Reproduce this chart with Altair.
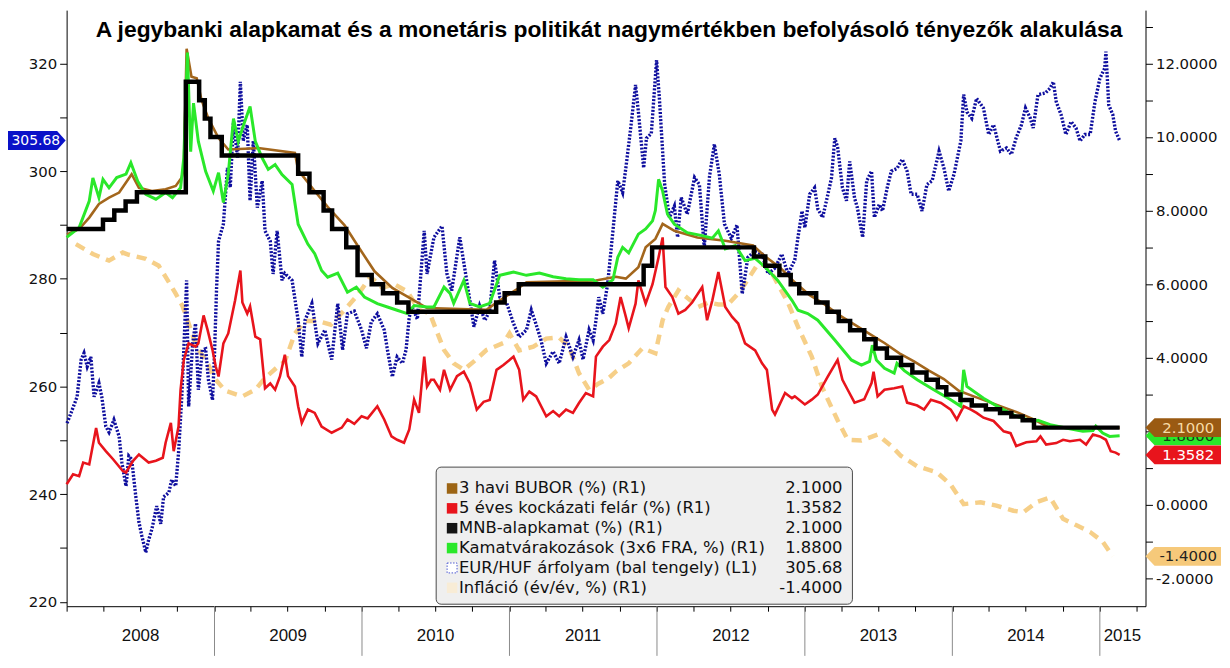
import altair as alt
import pandas as pd

TITLE = "A jegybanki alapkamat és a monetáris politikát nagymértékben befolyásoló tényezők alakulása"

# (decimal year, EUR/HUF)
eurhuf = [
    (2008.003, 253.2), (2008.030, 255.1), (2008.071, 258.1), (2008.098, 265.0), (2008.118, 266.2),
    (2008.138, 263.7), (2008.165, 265.5), (2008.185, 258.1), (2008.219, 260.6), (2008.239, 258.1),
    (2008.266, 252.6), (2008.286, 251.5), (2008.320, 253.8), (2008.354, 250.7), (2008.374, 245.8),
    (2008.401, 241.5), (2008.421, 247.1), (2008.441, 246.5), (2008.468, 239.7), (2008.488, 234.8),
    (2008.508, 232.3), (2008.535, 229.2), (2008.556, 231.5), (2008.576, 233.5), (2008.609, 237.8),
    (2008.636, 234.5), (2008.657, 239.5), (2008.690, 240.3), (2008.710, 242.7), (2008.737, 241.5),
    (2008.758, 247.7), (2008.778, 258.1), (2008.791, 266.8), (2008.811, 279.7), (2008.825, 256.3),
    (2008.852, 268.0), (2008.872, 271.7), (2008.892, 259.4), (2008.919, 266.8), (2008.939, 267.0),
    (2008.960, 261.2), (2008.987, 257.5), (2009.000, 266.0), (2009.013, 278.0), (2009.027, 287.0),
    (2009.061, 290.2), (2009.088, 300.6), (2009.108, 297.0), (2009.128, 309.2), (2009.155, 302.5),
    (2009.175, 316.6), (2009.195, 305.6), (2009.222, 308.6), (2009.242, 294.5), (2009.263, 305.6),
    (2009.290, 293.2), (2009.323, 298.2), (2009.343, 288.9), (2009.377, 287.0), (2009.397, 280.9),
    (2009.424, 288.9), (2009.458, 279.7), (2009.478, 281.0), (2009.525, 279.7), (2009.566, 272.3),
    (2009.593, 265.5), (2009.613, 272.3), (2009.660, 275.4), (2009.700, 268.0), (2009.747, 270.5),
    (2009.795, 265.0), (2009.835, 275.4), (2009.869, 266.8), (2009.902, 273.5), (2009.949, 274.0),
    (2009.997, 270.5), (2010.030, 267.1), (2010.064, 272.0), (2010.104, 273.5), (2010.152, 270.5),
    (2010.172, 266.8), (2010.205, 261.8), (2010.239, 265.5), (2010.273, 264.3), (2010.300, 266.8),
    (2010.320, 272.9), (2010.340, 274.8), (2010.374, 272.5), (2010.421, 288.9), (2010.441, 280.9),
    (2010.488, 287.7), (2010.542, 289.8), (2010.576, 281.0), (2010.609, 277.8), (2010.663, 287.7),
    (2010.710, 279.7), (2010.758, 271.1), (2010.798, 275.0), (2010.832, 272.3), (2010.865, 274.0),
    (2010.899, 283.4), (2010.933, 276.6), (2010.980, 275.5), (2011.027, 271.7), (2011.067, 269.2),
    (2011.114, 270.5), (2011.148, 274.2), (2011.182, 271.5), (2011.215, 268.6), (2011.249, 264.3),
    (2011.296, 266.5), (2011.337, 264.3), (2011.384, 269.2), (2011.431, 265.5), (2011.471, 268.6),
    (2011.498, 265.0), (2011.539, 270.5), (2011.566, 268.6), (2011.586, 272.3), (2011.606, 276.6),
    (2011.633, 273.5), (2011.667, 279.1), (2011.700, 288.9), (2011.734, 298.2), (2011.768, 296.0),
    (2011.788, 300.6), (2011.822, 308.0), (2011.855, 316.0), (2011.875, 311.0), (2011.909, 300.6),
    (2011.929, 306.1), (2011.963, 307.0), (2011.997, 320.6), (2012.017, 313.5), (2012.051, 297.5),
    (2012.084, 291.4), (2012.118, 293.5), (2012.138, 287.7), (2012.165, 295.1), (2012.205, 292.0),
    (2012.253, 298.8), (2012.286, 297.5), (2012.320, 285.8), (2012.354, 299.0), (2012.387, 305.0),
    (2012.421, 299.5), (2012.455, 290.2), (2012.502, 287.5), (2012.542, 290.0), (2012.576, 277.2),
    (2012.616, 284.0), (2012.663, 285.2), (2012.710, 284.6), (2012.751, 280.9), (2012.798, 282.0),
    (2012.845, 284.6), (2012.886, 280.9), (2012.933, 283.5), (2012.953, 287.7), (2012.980, 292.6),
    (2013.000, 289.5), (2013.034, 295.7), (2013.067, 296.9), (2013.088, 293.0), (2013.121, 291.4),
    (2013.155, 295.7), (2013.182, 298.8), (2013.202, 306.1), (2013.222, 304.5), (2013.256, 296.9),
    (2013.283, 294.5), (2013.303, 301.8), (2013.337, 295.0), (2013.357, 293.2), (2013.391, 287.7),
    (2013.418, 298.2), (2013.451, 300.0), (2013.471, 291.4), (2013.505, 293.8), (2013.525, 292.6),
    (2013.559, 297.0), (2013.586, 300.0), (2013.626, 300.5), (2013.660, 302.2), (2013.694, 300.0),
    (2013.721, 295.7), (2013.761, 295.7), (2013.795, 292.6), (2013.828, 297.5), (2013.862, 298.2),
    (2013.909, 303.7), (2013.943, 300.6), (2013.976, 296.3), (2014.010, 299.4), (2014.057, 305.6),
    (2014.077, 314.2), (2014.098, 311.0), (2014.131, 309.8), (2014.165, 313.5), (2014.212, 311.7),
    (2014.246, 306.8), (2014.279, 308.6), (2014.327, 303.7), (2014.367, 304.3), (2014.401, 303.1),
    (2014.434, 306.2), (2014.468, 308.6), (2014.495, 311.7), (2014.529, 309.8), (2014.549, 308.0),
    (2014.582, 314.2), (2014.630, 314.5), (2014.663, 315.4), (2014.684, 316.6), (2014.704, 312.9),
    (2014.737, 310.5), (2014.771, 306.8), (2014.805, 309.2), (2014.838, 308.0), (2014.865, 305.6),
    (2014.899, 306.8), (2014.933, 306.8), (2014.966, 312.9), (2015.000, 317.2), (2015.034, 319.1),
    (2015.040, 322.2), (2015.061, 312.3), (2015.088, 310.5), (2015.108, 307.4), (2015.135, 305.68),
]

# (decimal year, 3-month BUBOR %)
bubor = [
    (2008.003, 7.35), (2008.084, 7.50), (2008.152, 7.81), (2008.219, 8.18), (2008.286, 8.35),
    (2008.354, 8.49), (2008.441, 8.99), (2008.488, 8.62), (2008.576, 8.53), (2008.670, 8.58),
    (2008.737, 8.67), (2008.778, 8.90), (2008.791, 9.16), (2008.811, 12.40), (2008.845, 11.64),
    (2008.879, 11.60), (2008.912, 11.00), (2008.960, 10.50), (2009.027, 9.97), (2009.094, 9.66),
    (2009.296, 9.70), (2009.545, 9.57), (2009.566, 9.10), (2009.667, 8.60), (2009.768, 8.10),
    (2009.882, 7.60), (2009.970, 7.05), (2010.084, 6.35), (2010.205, 5.90), (2010.333, 5.60),
    (2010.441, 5.35), (2010.845, 5.30), (2010.912, 5.50), (2011.047, 5.85), (2011.114, 6.05),
    (2011.586, 6.10), (2011.721, 6.20), (2011.788, 6.15), (2011.875, 6.46), (2011.922, 7.00),
    (2011.990, 7.23), (2012.037, 7.64), (2012.118, 7.45), (2012.273, 7.27), (2012.461, 7.18),
    (2012.650, 7.05), (2012.731, 6.75), (2012.832, 6.45), (2012.933, 6.05), (2013.034, 5.70),
    (2013.135, 5.45), (2013.236, 5.15), (2013.337, 4.90), (2013.438, 4.65), (2013.539, 4.40),
    (2013.640, 4.12), (2013.741, 3.90), (2013.842, 3.65), (2013.943, 3.42), (2014.044, 3.10),
    (2014.145, 2.95), (2014.246, 2.80), (2014.347, 2.65), (2014.448, 2.50), (2014.549, 2.33),
    (2014.650, 2.12), (2014.751, 2.10), (2015.135, 2.10),
]

# (decimal year, 5-year CDS spread %)
cds = [
    (2008.000, 0.56), (2008.044, 0.83), (2008.084, 0.78), (2008.111, 1.15), (2008.152, 1.10),
    (2008.199, 2.09), (2008.219, 1.69), (2008.266, 1.46), (2008.313, 1.24), (2008.380, 0.92),
    (2008.401, 0.88), (2008.448, 1.19), (2008.488, 1.37), (2008.556, 1.15), (2008.603, 1.20),
    (2008.650, 1.28), (2008.670, 1.69), (2008.704, 2.23), (2008.724, 1.46), (2008.758, 2.13),
    (2008.771, 3.13), (2008.791, 3.94), (2008.825, 4.39), (2008.872, 4.30), (2008.892, 4.39),
    (2008.926, 5.15), (2008.953, 4.75), (2008.987, 4.21), (2009.007, 3.76), (2009.027, 3.49),
    (2009.061, 4.39), (2009.094, 4.66), (2009.141, 5.56), (2009.175, 6.37), (2009.189, 5.50),
    (2009.222, 5.20), (2009.242, 5.40), (2009.276, 4.57), (2009.310, 4.50), (2009.343, 3.17),
    (2009.377, 3.30), (2009.411, 3.13), (2009.444, 3.49), (2009.478, 4.08), (2009.498, 3.50),
    (2009.545, 3.22), (2009.566, 2.68), (2009.593, 2.23), (2009.633, 2.59), (2009.680, 2.50),
    (2009.727, 2.13), (2009.795, 1.96), (2009.862, 2.10), (2009.902, 2.32), (2009.949, 2.20),
    (2009.997, 2.41), (2010.037, 2.35), (2010.104, 2.68), (2010.152, 2.32), (2010.199, 1.86),
    (2010.239, 1.77), (2010.286, 1.69), (2010.320, 2.05), (2010.354, 2.86), (2010.387, 2.50),
    (2010.421, 4.03), (2010.441, 3.22), (2010.468, 3.40), (2010.488, 3.40), (2010.529, 3.13),
    (2010.556, 3.67), (2010.596, 3.13), (2010.643, 3.50), (2010.690, 3.62), (2010.731, 3.30),
    (2010.778, 2.59), (2010.825, 2.80), (2010.865, 2.85), (2010.912, 3.67), (2010.960, 3.80),
    (2011.027, 4.03), (2011.067, 3.67), (2011.094, 2.86), (2011.135, 3.08), (2011.182, 2.95),
    (2011.249, 2.41), (2011.296, 2.55), (2011.337, 2.41), (2011.384, 2.59), (2011.431, 2.50),
    (2011.471, 2.77), (2011.519, 3.04), (2011.566, 2.95), (2011.586, 4.03), (2011.633, 4.30),
    (2011.677, 4.48), (2011.721, 4.93), (2011.754, 5.65), (2011.788, 5.11), (2011.808, 4.80),
    (2011.855, 5.47), (2011.875, 6.10), (2011.922, 5.47), (2011.970, 6.00), (2012.010, 6.73),
    (2012.037, 7.27), (2012.057, 5.92), (2012.104, 5.65), (2012.145, 5.20), (2012.192, 5.30),
    (2012.239, 5.50), (2012.306, 5.92), (2012.340, 5.02), (2012.374, 5.56), (2012.414, 6.33),
    (2012.461, 5.38), (2012.508, 5.11), (2012.549, 4.93), (2012.596, 4.39), (2012.663, 4.20),
    (2012.710, 3.85), (2012.744, 3.67), (2012.778, 2.59), (2012.798, 2.46), (2012.865, 3.04),
    (2012.912, 2.90), (2012.933, 2.95), (2013.000, 2.73), (2013.047, 2.86), (2013.088, 3.00),
    (2013.155, 3.49), (2013.222, 3.94), (2013.256, 3.40), (2013.290, 3.13), (2013.337, 2.78),
    (2013.404, 2.87), (2013.451, 3.31), (2013.465, 3.62), (2013.492, 2.95), (2013.539, 3.13),
    (2013.606, 3.17), (2013.660, 3.22), (2013.694, 2.78), (2013.761, 2.70), (2013.808, 2.59),
    (2013.855, 2.86), (2013.923, 2.77), (2013.990, 2.59), (2014.030, 2.32), (2014.077, 2.68),
    (2014.125, 2.59), (2014.165, 2.50), (2014.212, 2.37), (2014.279, 2.28), (2014.347, 2.00),
    (2014.394, 1.95), (2014.434, 1.60), (2014.502, 1.70), (2014.569, 1.73), (2014.596, 1.86),
    (2014.636, 1.64), (2014.704, 1.68), (2014.751, 1.77), (2014.798, 1.73), (2014.865, 1.77),
    (2014.906, 1.64), (2014.953, 1.91), (2015.000, 1.86), (2015.040, 1.77), (2015.074, 1.46),
    (2015.108, 1.42), (2015.135, 1.3582),
]

# (decimal year, 3x6 FRA %)
fra = [
    (2008.000, 7.27), (2008.084, 7.54), (2008.152, 8.26), (2008.178, 8.89), (2008.219, 8.35),
    (2008.246, 8.85), (2008.286, 8.62), (2008.340, 8.90), (2008.401, 8.99), (2008.434, 9.30),
    (2008.481, 8.80), (2008.535, 8.44), (2008.603, 8.31), (2008.670, 8.49), (2008.717, 8.35),
    (2008.771, 8.62), (2008.791, 9.43), (2008.818, 12.30), (2008.838, 9.60), (2008.859, 10.92),
    (2008.892, 9.88), (2008.939, 9.07), (2008.993, 8.53), (2009.027, 9.03), (2009.061, 8.22),
    (2009.094, 9.00), (2009.128, 10.50), (2009.162, 9.88), (2009.195, 10.30), (2009.242, 10.83),
    (2009.276, 9.88), (2009.323, 9.43), (2009.364, 9.12), (2009.411, 9.25), (2009.458, 8.98),
    (2009.525, 8.71), (2009.566, 7.63), (2009.633, 7.09), (2009.680, 6.83), (2009.727, 6.37),
    (2009.768, 6.19), (2009.835, 6.30), (2009.902, 5.78), (2009.963, 5.92), (2010.017, 5.65),
    (2010.104, 5.47), (2010.172, 5.38), (2010.239, 5.29), (2010.306, 5.20), (2010.354, 5.42),
    (2010.441, 5.38), (2010.488, 5.38), (2010.556, 5.92), (2010.596, 5.75), (2010.623, 5.48),
    (2010.690, 6.10), (2010.731, 5.48), (2010.798, 5.38), (2010.865, 5.48), (2010.933, 6.24),
    (2011.027, 6.33), (2011.114, 6.24), (2011.202, 6.30), (2011.296, 6.20), (2011.384, 6.15),
    (2011.471, 6.12), (2011.566, 6.12), (2011.633, 5.92), (2011.700, 6.12), (2011.734, 6.73),
    (2011.768, 7.00), (2011.808, 6.85), (2011.875, 7.36), (2011.922, 7.50), (2011.970, 7.72),
    (2011.990, 8.00), (2012.010, 8.85), (2012.037, 8.53), (2012.071, 7.90), (2012.118, 7.63),
    (2012.205, 7.40), (2012.306, 7.32), (2012.374, 7.25), (2012.414, 7.45), (2012.461, 6.96),
    (2012.529, 7.05), (2012.596, 6.64), (2012.663, 6.70), (2012.731, 6.46), (2012.818, 6.10),
    (2012.912, 5.56), (2012.953, 5.29), (2013.020, 5.20), (2013.088, 5.02), (2013.202, 4.48),
    (2013.316, 3.94), (2013.384, 3.80), (2013.438, 3.90), (2013.458, 4.34), (2013.485, 3.94),
    (2013.539, 3.71), (2013.606, 3.58), (2013.626, 3.85), (2013.673, 3.65), (2013.761, 3.40),
    (2013.875, 3.13), (2013.990, 2.86), (2014.057, 2.68), (2014.077, 3.67), (2014.098, 3.22),
    (2014.212, 2.90), (2014.327, 2.63), (2014.434, 2.41), (2014.549, 2.27), (2014.582, 2.30),
    (2014.663, 2.18), (2014.771, 2.09), (2014.886, 2.00), (2014.953, 2.02), (2014.973, 2.14),
    (2015.020, 1.95), (2015.067, 1.86), (2015.135, 1.88),
]

# (decimal year, CPI y/y %)
inflation = [
    (2008.064, 7.09), (2008.178, 6.82), (2008.286, 6.64), (2008.380, 6.86), (2008.421, 6.80),
    (2008.535, 6.69), (2008.623, 6.50), (2008.670, 6.20), (2008.737, 5.74), (2008.785, 5.40),
    (2008.879, 4.30), (2008.960, 3.80), (2009.007, 3.40), (2009.074, 3.10), (2009.189, 2.95),
    (2009.276, 3.13), (2009.343, 3.45), (2009.431, 3.76), (2009.478, 3.90), (2009.545, 4.66),
    (2009.613, 5.00), (2009.700, 5.00), (2009.788, 4.90), (2009.882, 5.30), (2009.970, 5.70),
    (2010.057, 6.20), (2010.138, 5.90), (2010.219, 6.00), (2010.306, 5.80), (2010.387, 5.30),
    (2010.461, 5.20), (2010.556, 4.21), (2010.623, 3.85), (2010.690, 3.67), (2010.758, 3.90),
    (2010.845, 4.21), (2010.960, 4.40), (2011.000, 4.66), (2011.067, 4.20), (2011.162, 4.30),
    (2011.249, 4.52), (2011.337, 4.55), (2011.404, 4.30), (2011.471, 3.58), (2011.539, 3.13),
    (2011.606, 3.30), (2011.673, 3.45), (2011.721, 3.62), (2011.808, 3.85), (2011.902, 4.26),
    (2011.990, 4.12), (2012.037, 5.02), (2012.077, 5.38), (2012.145, 5.83), (2012.212, 5.60),
    (2012.279, 5.38), (2012.347, 5.50), (2012.414, 5.45), (2012.481, 5.45), (2012.549, 5.75),
    (2012.596, 6.01), (2012.643, 6.30), (2012.684, 6.55), (2012.751, 6.50), (2012.818, 6.00),
    (2012.886, 5.50), (2012.953, 4.84), (2013.047, 4.03), (2013.114, 3.22), (2013.155, 2.86),
    (2013.222, 2.30), (2013.290, 1.77), (2013.384, 1.75), (2013.492, 1.91), (2013.586, 1.60),
    (2013.653, 1.33), (2013.761, 1.05), (2013.896, 0.88), (2013.990, 0.55), (2014.077, 0.02),
    (2014.192, 0.07), (2014.300, -0.02), (2014.414, -0.16), (2014.481, -0.20), (2014.569, 0.07),
    (2014.663, 0.20), (2014.751, -0.38), (2014.838, -0.55), (2014.933, -0.74), (2015.020, -1.00),
    (2015.088, -1.40),
]

# MNB base rate decisions
mnb_dates = [
    "2008-01-01", "2008-03-31", "2008-04-28", "2008-05-26", "2008-06-23", "2008-10-22",
    "2008-11-24", "2008-12-08", "2008-12-22", "2009-01-19", "2009-07-27", "2009-08-24",
    "2009-09-28", "2009-10-19", "2009-11-23", "2009-12-21", "2010-01-25", "2010-02-22",
    "2010-03-29", "2010-04-26", "2010-11-29", "2010-12-20", "2011-01-24", "2011-11-29",
    "2011-12-20", "2012-08-28", "2012-09-25", "2012-10-30", "2012-11-27", "2012-12-18",
    "2013-01-29", "2013-02-26", "2013-03-26", "2013-04-23", "2013-05-28", "2013-06-25",
    "2013-07-23", "2013-08-27", "2013-09-24", "2013-10-29", "2013-11-26", "2013-12-17",
    "2014-01-21", "2014-02-18", "2014-03-25", "2014-04-29", "2014-05-27", "2014-06-24",
    "2014-07-22", "2015-02-19",
]
mnb_rates = [
    7.50, 7.75, 8.00, 8.25, 8.50, 11.50,
    11.00, 10.50, 10.00, 9.50, 9.00, 8.50,
    8.00, 7.50, 7.00, 6.25, 6.00, 5.75,
    5.50, 5.25, 5.50, 5.75, 6.00, 6.50,
    7.00, 6.75, 6.50, 6.25, 6.00, 5.75,
    5.50, 5.25, 5.00, 4.75, 4.50, 4.25,
    4.00, 3.80, 3.60, 3.40, 3.20, 3.00,
    2.85, 2.70, 2.60, 2.50, 2.40, 2.30,
    2.10, 2.10,
]

legend_names = [
    "3 havi BUBOR (%) (R1)",
    "5 éves kockázati felár (%) (R1)",
    "MNB-alapkamat (%) (R1)",
    "Kamatvárakozások (3x6 FRA, %) (R1)",
    "EUR/HUF árfolyam (bal tengely) (L1)",
    "Infláció (év/év, %) (R1)",
]
year_labels = ["2008", "2009", "2010", "2011", "2012", "2013", "2014", "2015"]

C_BUBOR = "#a3661c"
C_CDS = "#e8141c"
C_MNB = "#000000"
C_FRA = "#2ae82a"
C_EUR = "#0e0e9e"
C_INF = "#f6cf88"
FONT = "DejaVu Sans"

W, H = 1086, 600


def to_iso(t):
    y = int(t)
    start = pd.Timestamp(year=y, month=1, day=1)
    n = (pd.Timestamp(year=y + 1, month=1, day=1) - start).days
    return (start + pd.Timedelta(days=round((t - y) * n))).strftime("%Y-%m-%d")


def frame(pairs):
    return pd.DataFrame({"date": [to_iso(t) for t, _ in pairs], "value": [v for _, v in pairs]})


df_eur = frame(eurhuf)
df_bub = frame(bubor)
df_cds = frame(cds)
df_fra = frame(fra)
df_inf = frame(inflation)
df_mnb = pd.DataFrame({"date": mnb_dates, "value": mnb_rates})

XS = alt.Scale(domain=[alt.DateTime(year=2008, month=1, date=1), alt.DateTime(year=2015, month=4, date=24)])
quarter_ticks = [alt.DateTime(year=y, month=m, date=1) for y in range(2008, 2016) for m in (1, 4, 7, 10)
                 if not (y == 2015 and m > 4)]
XAX = alt.Axis(values=quarter_ticks, labels=False, ticks=True, tickSize=5, tickColor="#000",
               domainColor="#000", grid=False, title=None)


def X():
    return alt.X("date:T", scale=XS, axis=XAX)


RS = alt.Scale(domain=[-2.755, 13.45], nice=False, zero=False)
LS = alt.Scale(domain=[219.2, 329.9], nice=False, zero=False)
RAX = alt.Axis(orient="right", values=list(range(-2, 14)), grid=False, title=None, tickSize=7,
               tickColor="#000", domainColor="#000", labelPadding=3,
               labelExpr="datum.value % 2 == 0 ? replace(format(datum.value, '.4f'), '\u2212', '-') : ''")
LAX = alt.Axis(orient="left", values=list(range(220, 331, 10)), grid=False, title=None, tickSize=7,
               tickColor="#000", domainColor="#000", labelPadding=3,
               labelExpr="datum.value % 20 == 0 ? datum.label : ''")


def YR():
    return alt.Y("value:Q", scale=RS, axis=RAX)


def YL():
    return alt.Y("value:Q", scale=LS, axis=LAX)


# ---- layer A: inflation (right scale, no axis) ----
layer_inf = alt.Chart(df_inf).mark_line(color=C_INF, strokeWidth=4.5, strokeDash=[10, 7]).encode(
    x=X(), y=alt.Y("value:Q", scale=RS, axis=None))

# ---- layer B: EUR/HUF (left scale) ----
LEFT_TAG = "M 1 0 L 0.74 -0.29 L -1 -0.29 L -1 0.29 L 0.74 0.29 Z"
RIGHT_TAG = "M -1 0 L -0.76 -0.25 L 1 -0.25 L 1 0.25 L -0.76 0.25 Z"

eur_last = pd.DataFrame({"value": [eurhuf[-1][1]], "label": [f"{eurhuf[-1][1]:.2f}"]})
line_eur = alt.Chart(df_eur).mark_line(color=C_EUR, strokeWidth=3.4, strokeDash=[2, 1.6]).encode(x=X(), y=YL())
tag_eur = alt.Chart(eur_last).mark_point(shape=LEFT_TAG, size=66 ** 2, filled=True, opacity=1,
                                         color="#0a12c8", strokeWidth=0).encode(x=alt.value(-34), y=YL())
tag_eur_txt = alt.Chart(eur_last).mark_text(font=FONT, fontSize=14, color="white", align="center",
                                            baseline="middle").encode(x=alt.value(-31), y=YL(), text="label:N")
layer_left = alt.layer(line_eur, tag_eur, tag_eur_txt)

# ---- layer C: right-scale series + decorations ----
line_cds = alt.Chart(df_cds).mark_line(color=C_CDS, strokeWidth=2.6).encode(x=X(), y=YR())
line_bub = alt.Chart(df_bub).mark_line(color=C_BUBOR, strokeWidth=2.6).encode(x=X(), y=YR())
line_fra = alt.Chart(df_fra).mark_line(color=C_FRA, strokeWidth=3).encode(x=X(), y=YR())
line_mnb = alt.Chart(df_mnb).mark_line(color=C_MNB, strokeWidth=4.5, interpolate="step-after").encode(x=X(), y=YR())

tags = [
    (fra[-1][1], C_FRA, "#1a3a1a"),
    (bubor[-1][1], "#9a5a12", "#f7dca6"),
    (cds[-1][1], C_CDS, "#ffffff"),
    (inflation[-1][1], "#f6c97a", "#222222"),
]
tag_layers = []
for val, fill, tcol in tags:
    d = pd.DataFrame({"value": [val], "label": [f"{val:.4f}"]})
    tag_layers.append(alt.Chart(d).mark_point(shape=RIGHT_TAG, size=76 ** 2, filled=True, opacity=1,
                                              color=fill, strokeWidth=0).encode(x=alt.value(1124), y=YR()))
    tag_layers.append(alt.Chart(d).mark_text(font=FONT, fontSize=15, color=tcol, align="center",
                                             baseline="middle").encode(x=alt.value(1129), y=YR(), text="label:N"))

# title
title = alt.Chart(pd.DataFrame({"t": [TITLE]})).mark_text(
    font="Liberation Sans", fontWeight="bold", fontSize=23, color="#000", align="center", baseline="middle"
).encode(x=alt.value(546), y=alt.value(20), text="t:N")

# year separators & labels
sep_df = pd.DataFrame({"date": [f"{y}-01-01" for y in year_labels[1:]]})
seps = alt.Chart(sep_df).mark_rule(color="#8a8a8a", strokeWidth=1).encode(
    x=X(), y=alt.value(600), y2=alt.value(650))
ylab_df = pd.DataFrame({"date": [f"{y}-07-02" for y in year_labels[:-1]] + ["2015-02-26"], "label": year_labels})
ylabs = alt.Chart(ylab_df).mark_text(font="Liberation Sans", fontSize=17, color="#111", align="center",
                                     baseline="middle").encode(x=X(), y=alt.value(630), text="label:N")

# legend
legend_values = [f"{bubor[-1][1]:.4f}", f"{cds[-1][1]:.4f}", f"{mnb_rates[-1]:.4f}",
                 f"{fra[-1][1]:.4f}", f"{eurhuf[-1][1]:.2f}", f"{inflation[-1][1]:.4f}"]
legend_fills = ["#9c6414", C_CDS, "#141414", C_FRA, "#ffffff", "#f8ecd6"]
leg_df = pd.DataFrame({"name": legend_names, "val": legend_values, "fill": legend_fills,
                       "i": list(range(len(legend_names)))})

leg_box = alt.Chart(pd.DataFrame({"a": [0]})).mark_rect(
    fill="#efefef", stroke="#4a4a4a", strokeWidth=1, cornerRadius=5
).encode(x=alt.value(372), x2=alt.value(791), y=alt.value(460), y2=alt.value(598))
leg_base = alt.Chart(leg_df).transform_calculate(ly="481.5 + datum.i * 20")
leg_sq = leg_base.mark_square(size=112, filled=True, opacity=1, strokeWidth=0).encode(
    x=alt.value(388), y=alt.Y("ly:Q", scale=None), color=alt.Color("fill:N", scale=None))
leg_sq_eur = leg_base.transform_filter("datum.i == 4").mark_square(
    size=100, filled=False, opacity=1, color="#4a56d0", strokeWidth=1, strokeDash=[1.5, 1.5]
).encode(x=alt.value(388), y=alt.Y("ly:Q", scale=None))
leg_txt = leg_base.mark_text(font=FONT, fontSize=16.5, color="#111", align="left", baseline="middle").encode(
    x=alt.value(395), y=alt.Y("ly:Q", scale=None), text="name:N")
leg_val = leg_base.mark_text(font=FONT, fontSize=16.5, color="#111", align="right", baseline="middle").encode(
    x=alt.value(781), y=alt.Y("ly:Q", scale=None), text="val:N")

layer_right = alt.layer(line_cds, line_bub, line_fra, line_mnb, *tag_layers, title, seps, ylabs,
                        leg_box, leg_sq, leg_sq_eur, leg_txt, leg_val)

chart = alt.layer(layer_inf, layer_left, layer_right).resolve_scale(y="independent").properties(
    width=W, height=H,
    padding={"left": 59, "top": 0, "right": 77, "bottom": 50},
    autosize=alt.AutoSizeParams(type="none"),
).configure_view(strokeWidth=0).configure_axis(
    labelFont=FONT, labelFontSize=15, labelColor="#111"
)

chart.save("out.html", embed_options={"renderer": "svg", "actions": False})
